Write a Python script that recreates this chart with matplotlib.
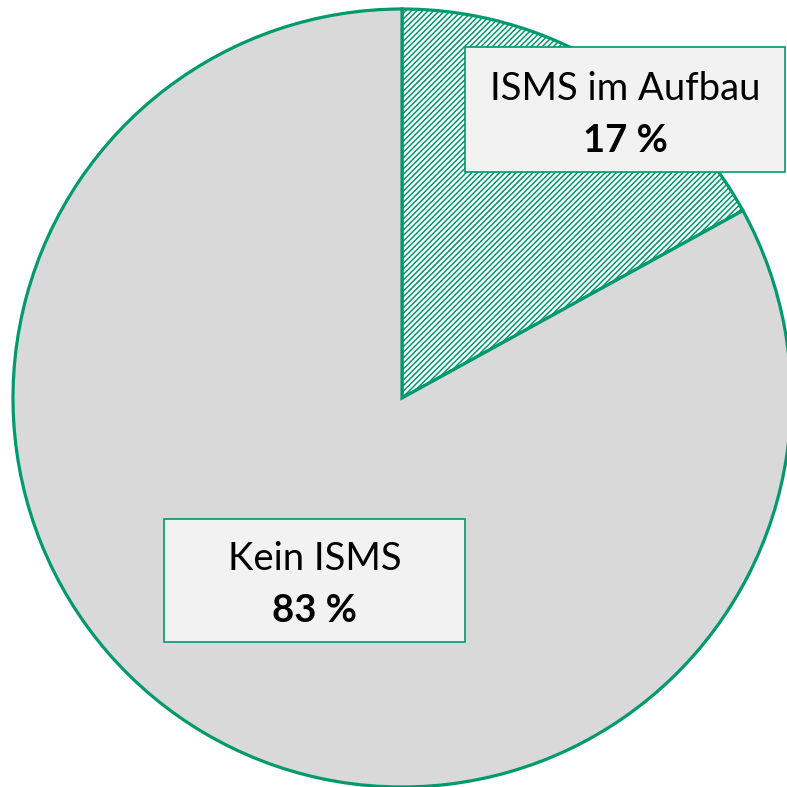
import matplotlib.pyplot as plt
from matplotlib.patches import Rectangle

labels = ['ISMS im Aufbau', 'Kein ISMS']
values = [17, 83]
pct_labels = ['17 %', '83 %']

green = '#00996E'
plt.rcParams['font.family'] = ['Lato', 'DejaVu Sans']
plt.rcParams['hatch.linewidth'] = 1.1
plt.rcParams['hatch.color'] = green

fig = plt.figure(figsize=(7.87, 7.87), dpi=100)
ax = fig.add_axes([0, 0, 1, 1])

wedges, _ = ax.pie(values, center=(402, 389), radius=389, startangle=90,
                   counterclock=False, colors=['white', '#D9D9D9'],
                   wedgeprops=dict(edgecolor=green, linewidth=2.3))
wedges[0].set_hatch('//////')

ax.set_xlim(0, 787)
ax.set_ylim(0, 787)
ax.set_aspect('equal')
ax.axis('off')

# label boxes (x0, y_top, x1, y_bottom) in pixel coords from top
boxes = [(465, 47, 785, 172), (164, 519, 465, 642)]
for (x0, yt, x1, yb), lab, pct in zip(boxes, labels, pct_labels):
    ax.add_patch(Rectangle((x0, 787 - yb), x1 - x0, yb - yt, facecolor='#F2F2F2',
                           edgecolor=green, linewidth=1.2, zorder=3))
    cx = (x0 + x1) / 2
    cy = 787 - (yt + yb) / 2
    ax.text(cx, cy + 21, lab, ha='center', va='center', fontsize=27.5, zorder=4)
    ax.text(cx, cy - 31, pct, ha='center', va='center', fontsize=27.5,
            fontweight='bold', zorder=4)

fig.savefig('out.png', dpi=100)
